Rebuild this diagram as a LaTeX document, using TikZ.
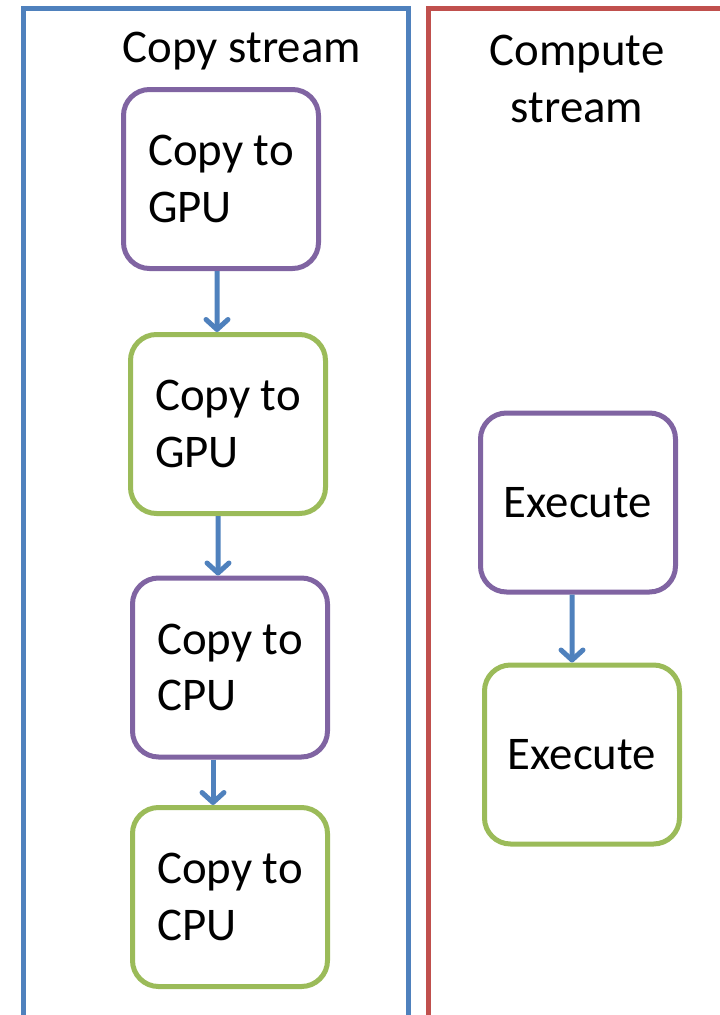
\documentclass[tikz,border=0pt]{standalone}
\usepackage{fontspec}
\setmainfont{Carlito}
\usetikzlibrary{arrows.meta}
\definecolor{frameblue}{HTML}{4F81BD}
\definecolor{framered}{HTML}{C0504D}
\definecolor{boxpurple}{HTML}{8064A2}
\definecolor{boxgreen}{HTML}{9BBB59}
\begin{document}
\begin{tikzpicture}[x=1bp,y=-1bp,
  lbl/.style={font=\fontsize{47}{57}\selectfont, inner sep=0pt, align=center},
  task/.style={draw, line width=5bp, rounded corners=26bp, fill=white,
    minimum width=195bp, minimum height=179bp,
    font=\fontsize{47}{57}\selectfont, align=left, inner sep=0pt},
  copyA/.style={task, draw=boxpurple},
  copyB/.style={task, draw=boxgreen},
  arr/.style={draw=frameblue, line width=5bp,
    -{Straight Barb[length=10bp,width=22bp,line cap=round,line join=round]}}]
  \useasboundingbox (0,0) rectangle (720,1015);
  \clip (0,0) rectangle (720,1015);

  % stream frames (open towards the page edges)
  \draw[frameblue, line width=5bp] (23,1030) -- (23,8) -- (408,8) -- (408,1030);
  \draw[framered, line width=5bp] (428,1030) -- (428,8) -- (740,8);

  % stream titles
  \node[lbl, anchor=base] (tcopy) at (242,62) {Copy stream};
  \node[lbl, anchor=base] (tcomp) at (577,122) {Compute\\stream};

  % copy stream tasks
  \node[copyA] (c1) at (221,179) {Copy to\\GPU};
  \node[copyB] (c2) at (228,424) {Copy to\\GPU};
  \node[copyA] (c3) at (230,667.5) {Copy to\\CPU};
  \node[copyB] (c4) at (230,897) {Copy to\\CPU};

  % compute stream tasks
  \node[copyA] (e1) at (578,502.5) {Execute};
  \node[copyB] (e2) at (582,754.5) {Execute};

  % ordering within each stream
  \draw[arr] ([xshift=-4bp]c1.south) -- ([xshift=-11bp]c2.north);
  \draw[arr] ([xshift=-10bp]c2.south) -- ([xshift=-12bp]c3.north);
  \draw[arr] ([xshift=-17bp]c3.south) -- ([xshift=-17bp]c4.north);
  \draw[arr] ([xshift=-6bp]e1.south) -- ([xshift=-10bp]e2.north);
\end{tikzpicture}
\end{document}
